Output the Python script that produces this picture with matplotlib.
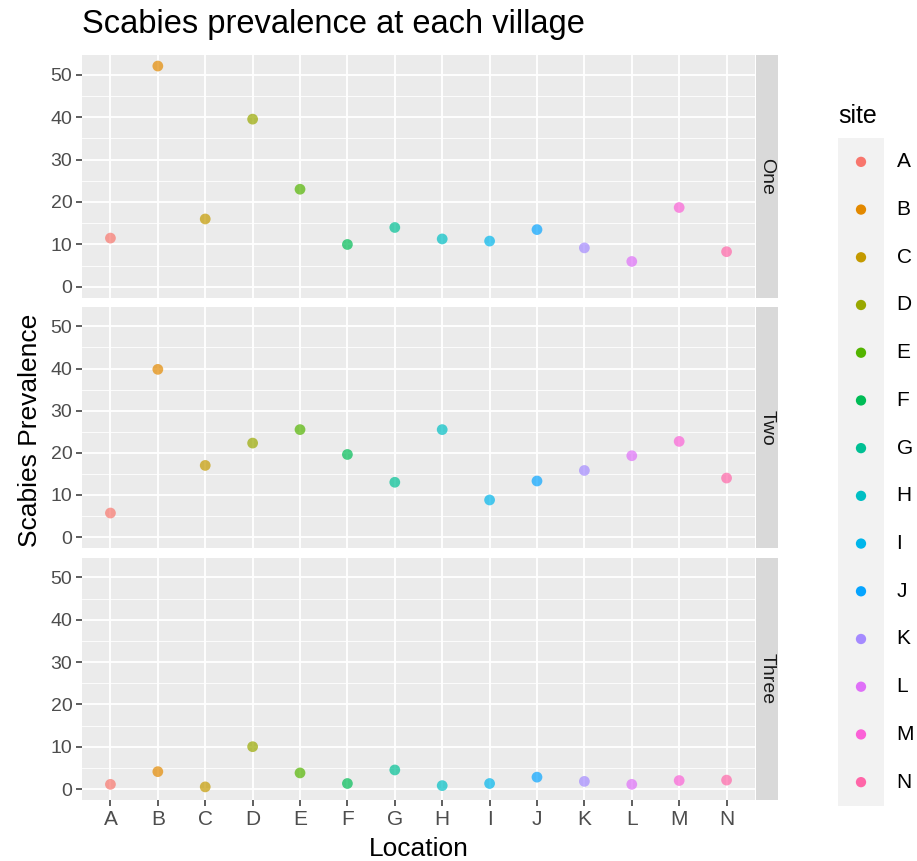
import numpy as np
import matplotlib
matplotlib.use("Agg")
import matplotlib.pyplot as plt

plt.rcParams['font.family'] = ['Liberation Sans', 'DejaVu Sans']

sites = ['A', 'B', 'C', 'D', 'E', 'F', 'G', 'H', 'I', 'J', 'K', 'L', 'M', 'N']
panels = ['One', 'Two', 'Three']
prev_one = [11.5, 52.0, 16.0, 39.5, 23.0, 10.0, 14.0, 11.3, 10.8, 13.5, 9.2, 6.0, 18.7, 8.3]
prev_two = [5.7, 39.8, 17.0, 22.3, 25.5, 19.6, 13.0, 25.5, 8.8, 13.3, 15.8, 19.3, 22.7, 14.0]
prev_three = [1.1, 4.1, 0.5, 10.0, 3.8, 1.3, 4.5, 0.8, 1.3, 2.8, 1.8, 1.1, 2.0, 2.1]


def hue_pal(n, l=65, c=100, h0=15):
    # ggplot2 default discrete palette (polar LUV -> sRGB)
    hues = h0 + np.arange(n) * 360.0 / n
    Xn, Yn, Zn = 95.047, 100.0, 108.883
    un = 4 * Xn / (Xn + 15 * Yn + 3 * Zn)
    vn = 9 * Yn / (Xn + 15 * Yn + 3 * Zn)
    M = np.array([[3.240479, -1.537150, -0.498535],
                  [-0.969256, 1.875992, 0.041556],
                  [0.055648, -0.204043, 1.057311]])
    out = []
    for h in hues:
        u = c * np.cos(np.radians(h))
        v = c * np.sin(np.radians(h))
        Y = Yn * ((l + 16) / 116) ** 3
        up = u / (13 * l) + un
        vp = v / (13 * l) + vn
        X = 9.0 * Y * up / (4 * vp)
        Z = -X / 3 - 5 * Y + 3 * Y / vp
        rgb = M @ (np.array([X, Y, Z]) / 100)
        rgb = np.where(rgb > 0.0031308, 1.055 * np.abs(rgb) ** (1 / 2.4) - 0.055, 12.92 * rgb)
        out.append(tuple(np.clip(rgb, 0, 1)))
    return out


colors = hue_pal(len(sites))

W, H = 917, 861
fig = plt.figure(figsize=(W / 100, H / 100), dpi=100)


def box(x0, y0, x1, y1):
    # pixel box (top-left origin) -> figure fraction
    return [x0 / W, 1 - y1 / H, (x1 - x0) / W, (y1 - y0) / H]


tops = [55, 307, 558]
bots = [298, 548, 800]
x = np.arange(len(sites))
ylo, yhi = -2.6, 54.6

for i, (name, vals) in enumerate(zip(panels, [prev_one, prev_two, prev_three])):
    ax = fig.add_axes(box(82, tops[i], 755, bots[i]))
    ax.set_facecolor('#EBEBEB')
    ax.set_xlim(-0.6, len(sites) - 0.4)
    ax.set_ylim(ylo, yhi)
    ax.set_yticks([0, 10, 20, 30, 40, 50])
    ax.set_yticks([5, 15, 25, 35, 45], minor=True)
    ax.set_xticks(x)
    ax.grid(which='major', color='white', linewidth=1.3)
    ax.grid(which='minor', axis='y', color='white', linewidth=0.6)
    ax.set_axisbelow(True)
    for s in ax.spines.values():
        s.set_visible(False)
    ax.tick_params(axis='both', which='major', colors='#333333', length=4, width=1.1,
                   labelsize=14, labelcolor='#4D4D4D', pad=3)
    ax.tick_params(axis='x', labelsize=15)
    ax.tick_params(axis='y', which='minor', length=0)
    ax.scatter(x, vals, c=colors, s=60, alpha=0.7, linewidths=0, zorder=3)
    if i < 2:
        ax.set_xticklabels([])
        ax.tick_params(axis='x', length=0)
    else:
        ax.set_xticklabels(sites)
        ax.set_xlabel('Location', fontsize=19, color='black', labelpad=6)

    sax = fig.add_axes(box(756, tops[i], 778, bots[i]))
    sax.set_facecolor('#D9D9D9')
    sax.set_xticks([])
    sax.set_yticks([])
    for s in sax.spines.values():
        s.set_visible(False)
    sax.text(0.5, 0.5, name, rotation=-90, ha='center', va='center',
             fontsize=14, color='#1A1A1A', transform=sax.transAxes)

fig.text(30 / W, 1 - 430 / H, 'Scabies Prevalence', rotation=90, ha='center', va='center',
         fontsize=19, color='black')
fig.text(82 / W, 1 - 25 / H, 'Scabies prevalence at each village', ha='left', va='center',
         fontsize=23.5, color='black')

# legend
lax = fig.add_axes(box(838, 138, 884, 806))
lax.set_facecolor('#F2F2F2')
lax.set_xlim(-1, 1)
lax.set_ylim(len(sites) - 0.5, -0.5)
lax.set_xticks([])
lax.set_yticks([])
for s in lax.spines.values():
    s.set_visible(False)
lax.scatter(np.zeros(len(sites)), x, c=colors, s=55, linewidths=0)
for k, lab in enumerate(sites):
    lax.annotate(lab, (1, k), xytext=(9, 0), textcoords='offset points',
                 xycoords=('axes fraction', 'data'), ha='left', va='center',
                 fontsize=15, color='black')
fig.text(838 / W, 1 - 116 / H, 'site', ha='left', va='center', fontsize=18, color='black')

fig.savefig('out.png', dpi=100)
